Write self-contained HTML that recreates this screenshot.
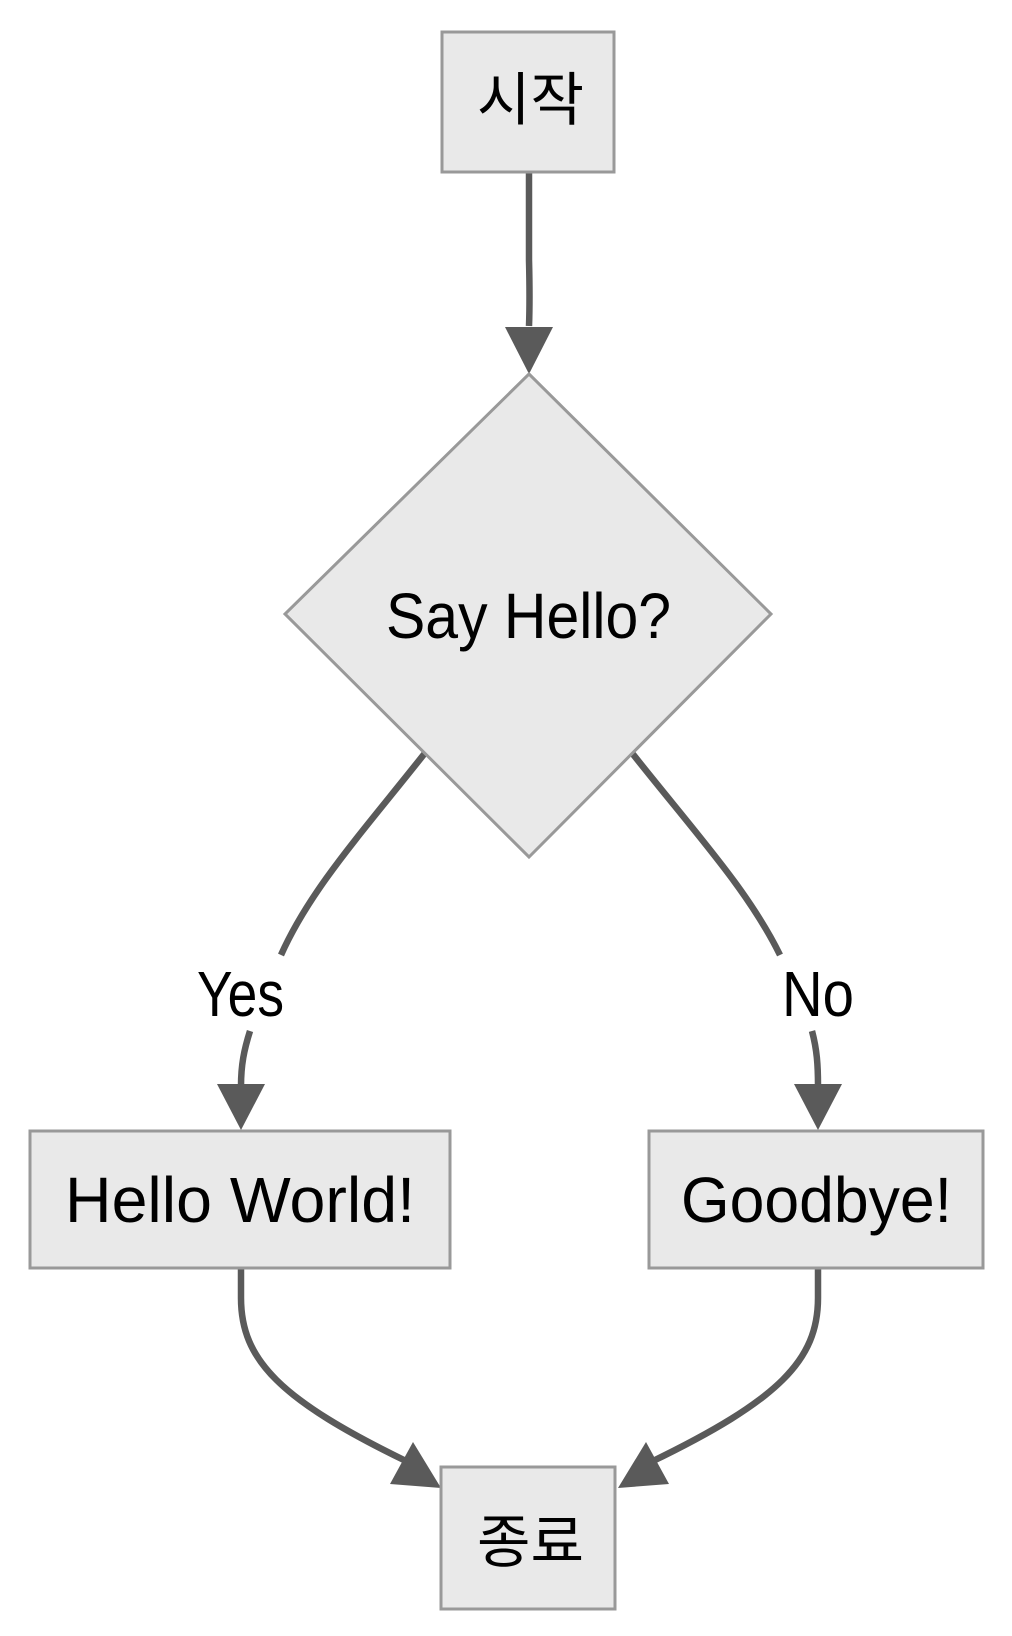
<!DOCTYPE html>
<html><head><meta charset="utf-8"><style>html,body{margin:0;padding:0;background:#fff}svg{display:block}</style></head>
<body>
<svg width="1012" height="1636" viewBox="0 0 1012 1636" xmlns="http://www.w3.org/2000/svg">
<g fill="none" stroke="#5a5a5a" stroke-width="6.5">
<path d="M529,172 L529,260 Q530,300 529,326" />
<path d="M425,753 C360,835 310,890 281,955"/>
<path d="M250,1031 C244,1050 241,1065 241,1086"/>
<path d="M632,753 C697,835 748,890 780,955"/>
<path d="M812,1031 C817,1050 818,1065 818,1086"/>
<path d="M241,1268 L241,1298 C241,1360 280,1400 408,1462"/>
<path d="M818,1268 L818,1298 C818,1360 779,1400 651,1462"/>
</g>
<g fill="#5a5a5a">
<polygon points="505,327 553,327 529,374"/>
<polygon points="217,1084 265,1084 241,1130"/>
<polygon points="794,1084 842,1084 818,1130"/>
<polygon points="413,1442 390,1484 441,1488"/>
<polygon points="646,1442 669,1484 618,1488"/>
</g>
<g fill="#e9e9e9" stroke="#999" stroke-width="3">
<rect x="442" y="32" width="172" height="140"/>
<polygon points="529,374 771,614 529,857 285,614"/>
<rect x="30" y="1131" width="420" height="137"/>
<rect x="649" y="1131" width="334" height="137"/>
<rect x="441" y="1467" width="174" height="142"/>
</g>
<g font-family="'Liberation Sans','Noto Sans CJK KR',sans-serif" font-size="64" fill="#000">
<text x="477" y="120" textLength="107" lengthAdjust="spacingAndGlyphs" font-family="'Noto Sans CJK KR',sans-serif" font-size="58">시작</text>
<text x="386" y="638" textLength="285" lengthAdjust="spacingAndGlyphs">Say Hello?</text>
<text x="197" y="1016" textLength="87" lengthAdjust="spacingAndGlyphs">Yes</text>
<text x="782" y="1016" textLength="72" lengthAdjust="spacingAndGlyphs">No</text>
<text x="65" y="1222" textLength="350" lengthAdjust="spacingAndGlyphs">Hello World!</text>
<text x="681" y="1222" textLength="271" lengthAdjust="spacingAndGlyphs">Goodbye!</text>
<text x="477" y="1562" textLength="107" lengthAdjust="spacingAndGlyphs" font-family="'Noto Sans CJK KR',sans-serif" font-size="58">종료</text>
</g>
</svg>
</body></html>
